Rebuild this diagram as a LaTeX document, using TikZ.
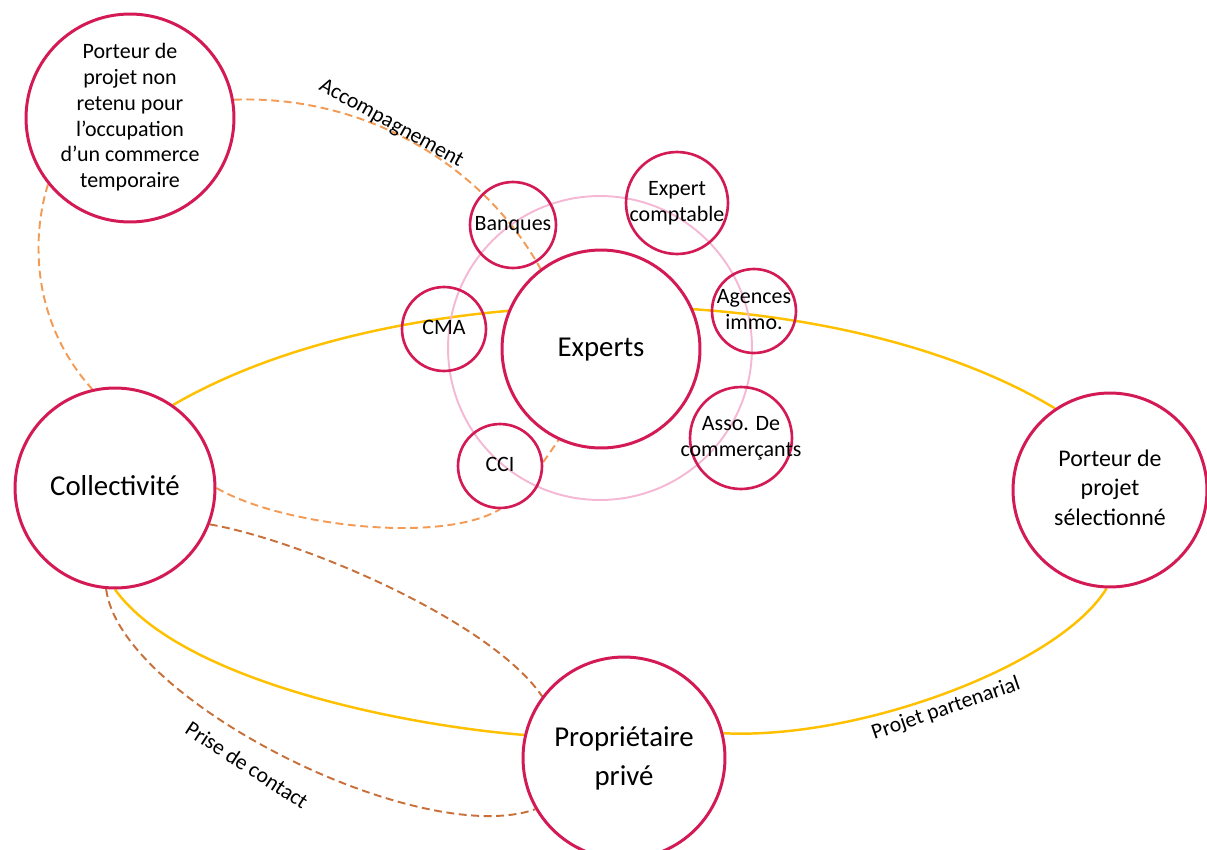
\documentclass[tikz,border=0pt]{standalone}
\usepackage{fontspec}
\setmainfont{Carlito}
\usepackage{tikz}
\usetikzlibrary{positioning,backgrounds}
\usepackage{xcolor}
\definecolor{rouge}{HTML}{D31A55}
\definecolor{rose}{HTML}{F4B8D4}
\definecolor{jaune}{HTML}{FFC000}
\definecolor{orclair}{HTML}{F39B55}
\definecolor{orfonce}{HTML}{C8703A}
\newcommand{\ctxt}[1]{\makebox[0pt]{\begin{tabular}{@{}c@{}}#1\end{tabular}}}

\begin{document}
\begin{tikzpicture}[x=0.02cm, y=-0.02cm,
	big/.style = {draw=rouge, circle, line width=1.7pt, fill=white, inner sep=0pt, font=\fontsize{16.4}{22}\selectfont},
	small/.style = {draw=rouge, circle, line width=1.5pt, inner sep=0pt, font=\fontsize{12.5}{15}\selectfont},
	ring/.style = {draw=rose, circle, line width=1.1pt, inner sep=0pt},
	lien/.style = {draw=jaune, line width=1.4pt},
	acc/.style = {draw=orclair, line width=1.1pt, dash pattern=on 4.5pt off 2.6pt},
	pdc/.style = {draw=orfonce, line width=1.1pt, dash pattern=on 4.5pt off 2.6pt},
	etiq/.style = {inner sep=0pt, font=\fontsize{12.4}{14}\selectfont}]
	\useasboundingbox (0,0) rectangle (1207,849);
	\node[ring, minimum size=6.08cm] (anneau) at (600,348) {};
	\node[big, minimum size=4.16cm, font=\fontsize{12.5}{14.7}\selectfont] (nonretenu) at (130,118) {\ctxt{Porteur de\\projet non\\retenu pour\\l’occupation\\d’un commerce\\temporaire}};
	\node[big, minimum size=4cm] (coll) at (115,488) {\ctxt{Collectivité}};
	\node[big, minimum size=4.04cm] (prop) at (624,758) {\ctxt{Propriétaire\\privé}};
	\node[big, minimum size=3.88cm, font=\fontsize{13.6}{16.8}\selectfont] (selection) at (1110,490) {\ctxt{Porteur de\\projet\\sélectionné}};
	\node[big, minimum size=3.96cm] (experts) at (601,349) {\ctxt{Experts}};
	\node[small, minimum size=1.72cm] (banques) at (513,225) {\ctxt{Banques}};
	\node[small, minimum size=2.04cm] (comptable) at (677,203) {\ctxt{Expert\\comptable}};
	\node[small, minimum size=1.68cm] (agences) at (754,311) {\ctxt{Agences\\immo.}};
	\node[small, minimum size=1.68cm] (cma) at (444,329) {\ctxt{CMA}};
	\node[small, minimum size=1.68cm] (cci) at (500,466) {\ctxt{CCI}};
	\node[small, minimum size=2.04cm] (asso) at (741,438) {\ctxt{Asso. De\\commerçants}};
	\node[etiq, rotate=-29] (accomp) at (391,124) {Accompagnement};
	\node[etiq, rotate=-33] (contact) at (247,765) {Prise de contact};
	\node[etiq, rotate=19] (partenarial) at (946,709) {Projet partenarial};
	\begin{scope}[on background layer]
		\draw[lien] (coll.55) .. controls (400,273) and (830,273) .. (selection.124);
		\draw[lien] (coll.-90) .. controls (180,680) and (400,725) .. (prop.167);
		\draw[lien] (prop.14) .. controls (860,740) and (1060,665) .. (selection.-92);
		\draw[acc] (nonretenu.10) .. controls (360,95) and (480,160) .. (experts.127);
		\draw[acc] (nonretenu.219) .. controls (32,235) and (30,320) .. (coll.103);
		\draw[acc] (coll.0) .. controls (280,525) and (440,545) .. (cci.-90);
		\draw[acc] (cci.5) -- (experts.245);
		\draw[pdc] (coll.-21) .. controls (300,540) and (490,620) .. (prop.143);
		\draw[pdc] (coll.-95) .. controls (120,700) and (420,850) .. (prop.210);
	\end{scope}
\end{tikzpicture}
\end{document}
